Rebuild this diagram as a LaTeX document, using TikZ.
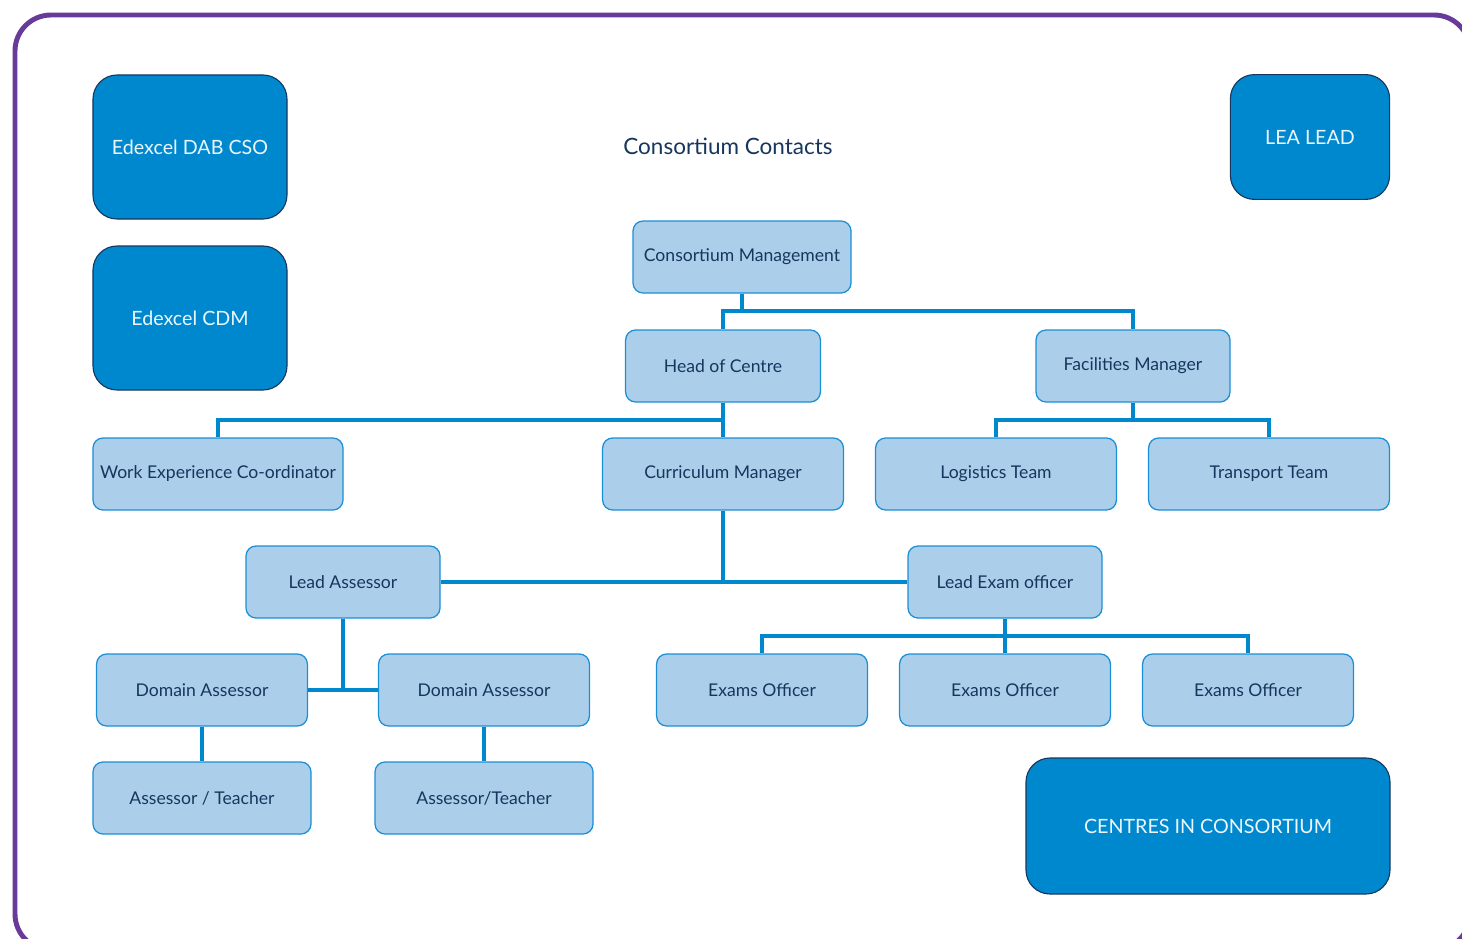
\documentclass[tikz,border=0pt]{standalone}
\usepackage{fontspec}
\setmainfont{Lato}
\usepackage{tikz}
\usetikzlibrary{positioning, calc}
\definecolor{framepurple}{RGB}{106,58,154}
\definecolor{deepblue}{RGB}{0,136,207}
\definecolor{deepedge}{RGB}{23,55,94}
\definecolor{paleblue}{RGB}{171,207,235}
\definecolor{paleedge}{RGB}{27,143,214}
\definecolor{inknavy}{RGB}{23,54,93}
\tikzset{
    contact/.style={rectangle, rounded corners=0.6cm, draw=deepedge, fill=deepblue, line width=0.8pt, text=white!92!deepblue, font=\fontsize{14}{16}\selectfont},
    role/.style={rectangle, rounded corners=0.25cm, draw=paleedge, fill=paleblue, line width=0.9pt, minimum height=1.8cm, text=inknavy, font=\fontsize{12.5}{15}\selectfont},
    link/.style={draw=deepblue, line width=3pt},
}

\begin{document}
\begin{tikzpicture}[x=0.25mm, y=-0.25mm]
    \useasboundingbox (0,0) rectangle (1462,938);
    \draw[framepurple, line width=3.5pt, rounded corners=0.9cm] (15,15) rectangle (1470,950);

    % contacts
    \node[contact, minimum width=4.85cm, minimum height=3.6cm] (dab) at (190,147) {Edexcel DAB CSO};
    \node[contact, minimum width=4.85cm, minimum height=3.6cm] (cdm) at (190,318) {Edexcel CDM};
    \node[contact, minimum width=3.98cm, minimum height=3.12cm] (lea) at (1310,137) {LEA LEAD};
    \node[contact, minimum width=9.1cm, minimum height=3.4cm] (cic) at (1208,826) {CENTRES IN CONSORTIUM};
    \node[text=inknavy, font=\fontsize{16}{19}\selectfont] (title) at (728,146) {Consortium Contacts};

    % roles
    \node[role, minimum width=5.45cm] (cm) at (742,257) {Consortium Management};
    \node[role, minimum width=4.87cm] (hoc) at (723,366) {Head of Centre};
    \node[role, minimum width=4.85cm] (fm) at (1133,366) {Facilities Manager};
    \node[role, minimum width=6.25cm] (wec) at (218,474) {Work Experience Co-ordinator};
    \node[role, minimum width=6.02cm] (cur) at (723,474) {Curriculum Manager};
    \node[role, minimum width=6.02cm] (log) at (996,474) {Logistics Team};
    \node[role, minimum width=6.02cm] (trn) at (1269,474) {Transport Team};
    \node[role, minimum width=4.85cm] (la) at (343,582) {Lead Assessor};
    \node[role, minimum width=4.85cm] (leo) at (1005,582) {Lead Exam officer};
    \node[role, minimum width=5.27cm] (da1) at (202,690) {Domain Assessor};
    \node[role, minimum width=5.27cm] (da2) at (484,690) {Domain Assessor};
    \node[role, minimum width=5.27cm] (eo1) at (762,690) {Exams Officer};
    \node[role, minimum width=5.27cm] (eo2) at (1005,690) {Exams Officer};
    \node[role, minimum width=5.27cm] (eo3) at (1248,690) {Exams Officer};
    \node[role, minimum width=5.45cm] (at1) at (202,798) {Assessor / Teacher};
    \node[role, minimum width=5.45cm] (at2) at (484,798) {Assessor/Teacher};

    % junctions
    \coordinate (j1) at (742,311);
    \coordinate (j2) at (723,420);
    \coordinate (j3) at (1133,420);
    \coordinate (j4) at (1005,636);

    % connectors
    \draw[link] (cm.south) -- (j1);
    \draw[link] (hoc.north) |- (j1) -| (fm.north);
    \draw[link] (hoc.south) -- (j2);
    \draw[link] (wec.north) |- (j2) -- (cur.north);
    \draw[link] (fm.south) -- (j3);
    \draw[link] (log.north) |- (j3) -| (trn.north);
    \draw[link] (la.east) -- (leo.west);
    \draw[link] (cur.south) -- (cur.south |- la.east);
    \draw[link] (da1.east) -- (da2.west);
    \draw[link] (la.south) -- (la.south |- da1.east);
    \draw[link] (leo.south) -- (j4);
    \draw[link] (eo1.north) |- (j4) -| (eo3.north);
    \draw[link] (j4) -- (eo2.north);
    \draw[link] (da1.south) -- (at1.north);
    \draw[link] (da2.south) -- (at2.north);
\end{tikzpicture}
\end{document}
